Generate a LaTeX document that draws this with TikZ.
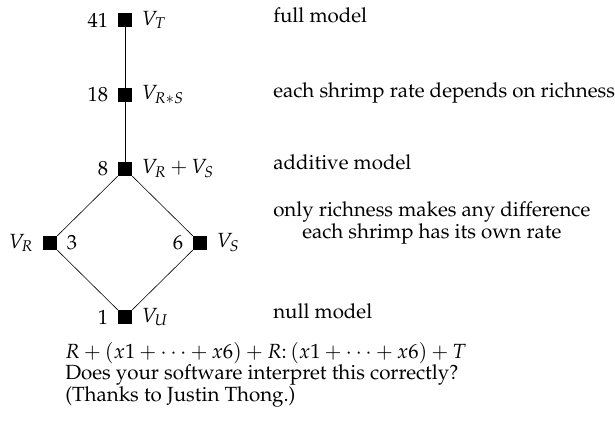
\documentclass[tikz,border=0pt]{standalone}
\usepackage[T1]{fontenc}
\usepackage{mathpazo}
\usepackage{tikz}

\tikzset{
  vtx/.style={fill=black, minimum size=14pt, inner sep=0pt},
  note/.style={anchor=base west, inner sep=0pt},
}

\begin{document}
\begin{tikzpicture}[x=1pt, y=-1pt, line width=0.6pt,
    every node/.style={font=\fontsize{20.5}{21.5}\selectfont},
    every label/.style={font=\fontsize{20.5}{21.5}\selectfont},
    label distance=6pt]
  \useasboundingbox (0,0) rectangle (615,423);
  % lattice of models
  \node[vtx, label=left:41, label=right:{$V_T$}] (vt) at (125,20) {};
  \node[vtx, label=left:18, label=right:{$V_{R*S}$}] (vrs) at (125,95) {};
  \node[vtx, label=left:8, label=right:{$V_R+V_S$}] (vadd) at (125,169) {};
  \node[vtx, label=left:{$V_R$}, label=right:3] (vr) at (50,243) {};
  \node[vtx, label=left:6, label=right:{$V_S$}] (vs) at (200,243) {};
  \node[vtx, label=left:1, label=right:{$V_U$}] (vu) at (125,317) {};
  \draw (vt) -- (vrs) -- (vadd);
  \draw (vadd) -- (vr) -- (vu) -- (vs) -- (vadd);
  % what each model means
  \node[note] (nfull) at (273,22) {full model};
  \node[note] (nrs) at (273,97.5) {each shrimp rate depends on richness};
  \node[note] (nadd) at (273,169) {additive model};
  \node[note, align=center] (nrich) at (273,238) {only richness makes any difference\\each shrimp has its own rate};
  \node[note] (nnull) at (273,318) {null model};
  % formula
  \node[note, align=left] (nform) at (65,401)
    {$R+(x1+\cdots+x6)+R\colon(x1+\cdots+x6)+T$\\
     Does your software interpret this correctly?\\
     (Thanks to Justin Thong.)};
\end{tikzpicture}
\end{document}
